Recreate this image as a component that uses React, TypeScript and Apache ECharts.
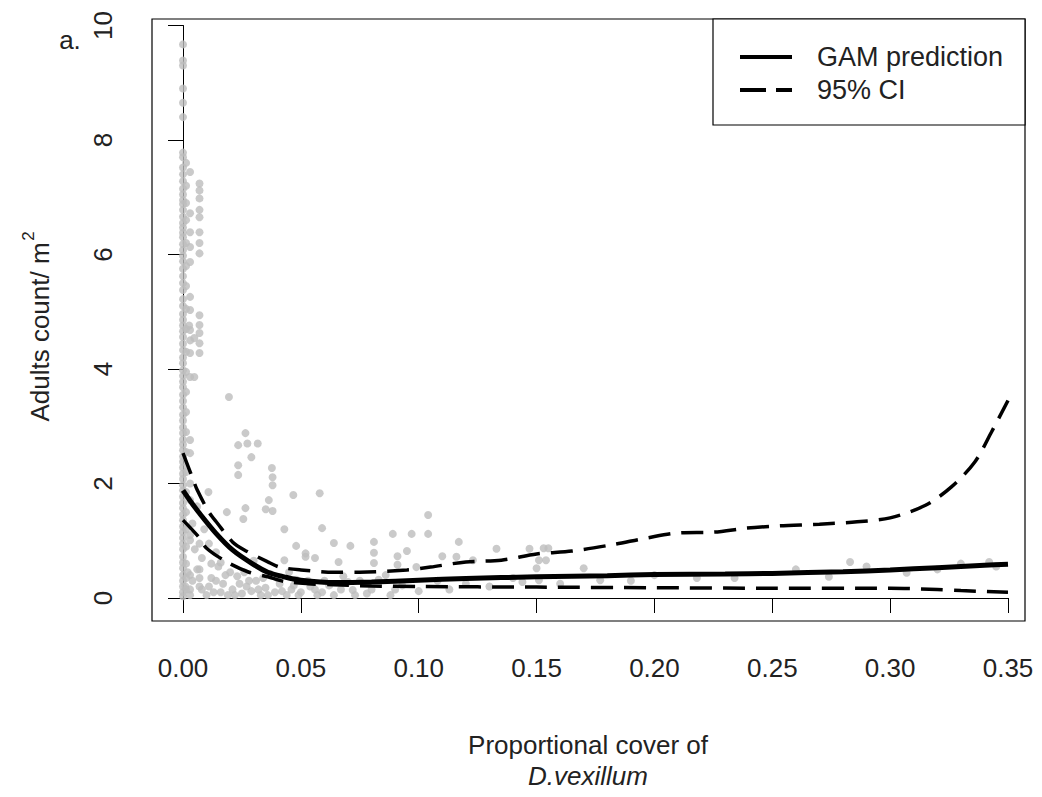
import React, { useEffect, useRef } from "react";
import * as echarts from "echarts";

// ---- axis ticks ----
const xTickValues = [0, 0.05, 0.1, 0.15, 0.2, 0.25, 0.3, 0.35];
const yTickValues = [0, 2, 4, 6, 8, 10];

// ---- GAM prediction (solid) ----
const fitX = [0, 0.003, 0.007, 0.014, 0.021, 0.029, 0.036, 0.043, 0.05, 0.065, 0.08, 0.1, 0.12, 0.15, 0.18, 0.2, 0.23, 0.25, 0.28, 0.3, 0.32, 0.34, 0.35];
const fitY = [1.88, 1.7, 1.48, 1.13, 0.84, 0.61, 0.45, 0.37, 0.31, 0.27, 0.28, 0.31, 0.34, 0.37, 0.39, 0.41, 0.42, 0.43, 0.46, 0.49, 0.53, 0.57, 0.59];

// ---- 95% CI upper ----
const upperX = [0, 0.004, 0.006, 0.011, 0.0145, 0.021, 0.026, 0.036, 0.041, 0.05, 0.064, 0.075, 0.095, 0.105, 0.12, 0.135, 0.15, 0.165, 0.182, 0.197, 0.211, 0.225, 0.239, 0.253, 0.27, 0.286, 0.3, 0.315, 0.326, 0.336, 0.343, 0.35];
const upperY = [2.53, 2.1, 1.89, 1.5, 1.31, 0.98, 0.84, 0.63, 0.54, 0.49, 0.45, 0.45, 0.49, 0.54, 0.63, 0.66, 0.77, 0.82, 0.93, 1.05, 1.14, 1.15, 1.22, 1.26, 1.29, 1.33, 1.4, 1.62, 1.94, 2.38, 2.9, 3.45];

// ---- 95% CI lower ----
const lowerX = [0, 0.007, 0.01, 0.0186, 0.028, 0.036, 0.043, 0.053, 0.064, 0.08, 0.1, 0.15, 0.2, 0.25, 0.3, 0.32, 0.33, 0.35];
const lowerY = [1.36, 1.05, 0.87, 0.63, 0.45, 0.37, 0.29, 0.25, 0.23, 0.21, 0.2, 0.19, 0.18, 0.17, 0.17, 0.15, 0.13, 0.1];

// ---- observed points ----
const col0Y = [9.67, 9.39, 9.3, 8.9, 8.65, 8.4, 7.78, 7.7, 7.52, 7.4, 7.28, 7.15, 7.05, 6.95, 6.88, 6.78, 6.66, 6.55, 6.47, 6.38, 6.3, 6.18, 6.08, 5.98, 5.88, 5.75, 5.62, 5.5, 5.38, 5.22, 5.1, 4.96, 4.86, 4.76, 4.66, 4.56, 4.44, 4.33, 4.2, 4.1, 3.98, 3.88, 3.78, 3.68, 3.55, 3.44, 3.33, 3.2, 3.1, 2.98, 2.88, 2.77, 2.68, 2.58, 2.47, 2.38, 2.28, 2.17, 2.08, 1.97, 1.88, 1.77, 1.66, 1.57, 1.46, 1.36, 1.25, 1.15, 1.05, 0.95, 0.85, 0.72, 0.62, 0.52, 0.4, 0.3, 0.2, 0.1, 0.03];
const colAY = [7.6, 7.2, 6.9, 6.6, 6.2, 5.8, 5.45, 5.05, 4.7, 4.3, 3.95, 3.6, 3.25, 2.9, 2.55, 2.2, 1.85, 1.5, 1.2, 0.9, 0.6, 0.35, 0.15];
const col1Y = [7.44, 6.72, 6.39, 6.13, 5.87, 5.26, 5.03, 4.68, 4.5, 4.28, 3.86, 2.76, 2.53, 2.0, 1.71, 1.01, 0.4, 0.15];
const col2Y = [7.24, 7.12, 6.98, 6.78, 6.65, 6.39, 6.2, 6.02, 4.94, 4.77, 4.63, 4.45, 4.28, 0.5, 0.2];
const col0X = 0;
const colAX = 0.0013;
const col1X = 0.003;
const col2X = 0.007;
const otherPoints: [number, number][] = [
  [0.0026, 4.76], [0.0048, 4.54], [0.0048, 3.86], [0.0195, 3.51], [0.0265, 2.88], [0.0234, 2.67], [0.0273, 2.7], [0.0317, 2.7],
  [0.029, 2.46], [0.0234, 2.32], [0.0234, 2.15], [0.0377, 2.27], [0.038, 2.11], [0.038, 1.97], [0.0468, 1.8], [0.058, 1.83],
  [0.0364, 1.71], [0.038, 1.52], [0.0351, 1.55], [0.0265, 1.57], [0.0256, 1.38], [0.0186, 1.5], [0.0108, 1.85], [0.043, 1.2],
  [0.059, 1.22], [0.048, 0.91], [0.064, 0.96], [0.071, 0.91], [0.056, 0.7], [0.043, 0.66], [0.052, 0.72], [0.066, 0.63], [0.052, 0.78],
  [0.081, 0.98], [0.081, 0.79], [0.081, 0.61], [0.089, 1.12], [0.091, 0.73], [0.091, 0.58], [0.097, 1.12], [0.095, 0.82],
  [0.104, 1.45], [0.104, 1.12], [0.11, 0.73], [0.117, 0.98], [0.116, 0.72], [0.099, 0.54], [0.133, 0.86], [0.147, 0.86],
  [0.153, 0.87], [0.155, 0.87], [0.151, 0.66], [0.154, 0.66], [0.15, 0.52], [0.17, 0.52], [0.144, 0.28], [0.151, 0.31],
  [0.177, 0.31], [0.123, 0.66], [0.283, 0.63], [0.307, 0.44], [0.342, 0.63], [0.218, 0.35], [0.234, 0.35], [0.274, 0.37],
  [0.059, 0.1], [0.072, 0.14], [0.26, 0.5], [0.29, 0.55], [0.32, 0.5], [0.33, 0.6], [0.345, 0.55],
  [0.002, 0.45], [0.004, 0.3], [0.006, 0.5], [0.008, 0.15], [0.01, 0.05], [0.012, 0.35], [0.013, 0.1], [0.015, 0.55],
  [0.017, 0.25], [0.019, 0.05], [0.021, 0.15], [0.023, 0.38], [0.025, 0.08], [0.027, 0.2], [0.029, 0.12], [0.031, 0.3],
  [0.033, 0.05], [0.035, 0.18], [0.037, 0.42], [0.039, 0.1], [0.041, 0.25], [0.044, 0.05], [0.046, 0.15], [0.048, 0.32],
  [0.05, 0.1], [0.054, 0.2], [0.057, 0.05], [0.062, 0.22], [0.068, 0.38], [0.075, 0.3], [0.078, 0.08], [0.086, 0.4],
  [0.09, 0.15], [0.011, 0.95], [0.014, 0.8], [0.009, 1.2], [0.016, 0.62], [0.005, 0.85], [0.03, 0.65], [0.02, 0.45], [0.045, 0.45],
  [0.001, 0.2], [0.003, 0.05], [0.007, 0.35], [0.011, 0.2], [0.014, 0.3], [0.016, 0.1], [0.018, 0.4], [0.022, 0.05],
  [0.024, 0.25], [0.026, 0.45], [0.028, 0.3], [0.032, 0.15], [0.034, 0.35], [0.036, 0.05], [0.04, 0.35], [0.042, 0.12],
  [0.047, 0.22], [0.049, 0.05], [0.053, 0.3], [0.056, 0.15], [0.06, 0.3], [0.064, 0.05], [0.067, 0.15], [0.07, 0.28],
  [0.073, 0.05], [0.08, 0.15], [0.083, 0.32], [0.088, 0.05], [0.093, 0.22], [0.1, 0.12], [0.108, 0.3], [0.113, 0.15],
  [0.12, 0.25], [0.13, 0.2], [0.14, 0.35], [0.16, 0.25], [0.19, 0.3], [0.2, 0.4],
  [0.004, 1.3], [0.006, 1.6], [0.003, 1.1], [0.008, 0.7], [0.012, 0.6], [0.007, 0.95],
];

const FONT = "'Liberation Sans', Arial, Helvetica, sans-serif";
const TXT = "#222";

export default function App() {
  const ref = useRef<HTMLDivElement>(null);
  useEffect(() => {
    if (!ref.current) return;
    const chart = echarts.init(ref.current, undefined, { renderer: "svg" });
    const pts: [number, number][] = [
      ...col0Y.map((y) => [col0X, y] as [number, number]),
      ...colAY.map((y) => [colAX, y] as [number, number]),
      ...col1Y.map((y) => [col1X, y] as [number, number]),
      ...col2Y.map((y) => [col2X, y] as [number, number]),
      ...otherPoints,
    ];
    const zip = (xs: number[], ys: number[]) => xs.map((x, i) => [x, ys[i]]);
    const option: any = {
      animation: false,
      grid: { left: 183, top: 25.5, width: 825, height: 572.5, containLabel: false },
      xAxis: {
        type: "value",
        min: xTickValues[0],
        max: xTickValues[xTickValues.length - 1],
        interval: 0.05,
        offset: 23,
        axisLine: { show: true, lineStyle: { color: "#000", width: 1 } },
        axisTick: { show: true, length: 15, lineStyle: { color: "#000", width: 1 } },
        axisLabel: { formatter: (v: number) => v.toFixed(2), fontSize: 26, color: TXT, margin: 34, fontFamily: FONT },
        splitLine: { show: false },
      },
      yAxis: {
        type: "value",
        min: yTickValues[0],
        max: yTickValues[yTickValues.length - 1],
        interval: 2,
        offset: 31,
        axisLine: { show: true, lineStyle: { color: "#000", width: 1 } },
        axisTick: { show: true, length: 15, lineStyle: { color: "#000", width: 1 } },
        axisLabel: { rotate: 90, fontSize: 26, color: TXT, margin: 36, fontFamily: FONT },
        splitLine: { show: false },
      },
      series: [
        {
          type: "scatter",
          data: pts,
          symbol: "circle",
          symbolSize: 8,
          itemStyle: { color: "#bdbdbd" },
          clip: false,
          z: 1,
        },
        {
          type: "line",
          name: "95% CI upper",
          data: zip(upperX, upperY),
          showSymbol: false,
          smooth: 0.3,
          lineStyle: { color: "#000", width: 3.5, type: [22, 11] },
          z: 3,
        },
        {
          type: "line",
          name: "95% CI lower",
          data: zip(lowerX, lowerY),
          showSymbol: false,
          smooth: 0.3,
          lineStyle: { color: "#000", width: 3.5, type: [22, 11] },
          z: 3,
        },
        {
          type: "line",
          name: "GAM prediction",
          data: zip(fitX, fitY),
          showSymbol: false,
          smooth: 0.3,
          lineStyle: { color: "#000", width: 5 },
          z: 4,
        },
      ],
      graphic: [
        { type: "rect", silent: true, shape: { x: 152, y: 19, width: 873, height: 602 }, style: { fill: "none", stroke: "#000", lineWidth: 1.2 } },
        { type: "rect", silent: true, shape: { x: 713, y: 19, width: 312, height: 106 }, style: { fill: "#fff", stroke: "#000", lineWidth: 1.2 }, z: 10 },
        { type: "line", silent: true, shape: { x1: 740, y1: 57, x2: 792, y2: 57 }, style: { stroke: "#000", lineWidth: 4 }, z: 11 },
        { type: "line", silent: true, shape: { x1: 740, y1: 90, x2: 792, y2: 90 }, style: { stroke: "#000", lineWidth: 4, lineDash: [26, 10] }, z: 11 },
        { type: "text", silent: true, x: 817, y: 57, style: { text: "GAM prediction", font: `27px ${FONT}`, fill: TXT, textVerticalAlign: "middle" }, z: 11 },
        { type: "text", silent: true, x: 817, y: 90, style: { text: "95% CI", font: `27px ${FONT}`, fill: TXT, textVerticalAlign: "middle" }, z: 11 },
        { type: "text", silent: true, x: 70, y: 40, style: { text: "a.", font: `26px ${FONT}`, fill: TXT, textAlign: "center", textVerticalAlign: "middle" } },
        { type: "text", silent: true, x: 588, y: 745, style: { text: "Proportional cover of", font: `26px ${FONT}`, fill: TXT, textAlign: "center", textVerticalAlign: "middle" } },
        { type: "text", silent: true, x: 588, y: 776, style: { text: "D.vexillum", font: `italic 26px ${FONT}`, fill: TXT, textAlign: "center", textVerticalAlign: "middle" } },
        { type: "text", silent: true, x: 40, y: 332, rotation: Math.PI / 2, style: { text: "Adults count/ m", font: `26px ${FONT}`, fill: TXT, textAlign: "center", textVerticalAlign: "middle" } },
        { type: "text", silent: true, x: 28, y: 236, rotation: Math.PI / 2, style: { text: "2", font: `17px ${FONT}`, fill: TXT, textAlign: "center", textVerticalAlign: "middle" } },
      ],
    };
    chart.setOption(option);
    return () => chart.dispose();
  }, []);
  return <div ref={ref} style={{ position: "absolute", left: 0, top: 0, width: 1042, height: 797, background: "#fff" }} />;
}
